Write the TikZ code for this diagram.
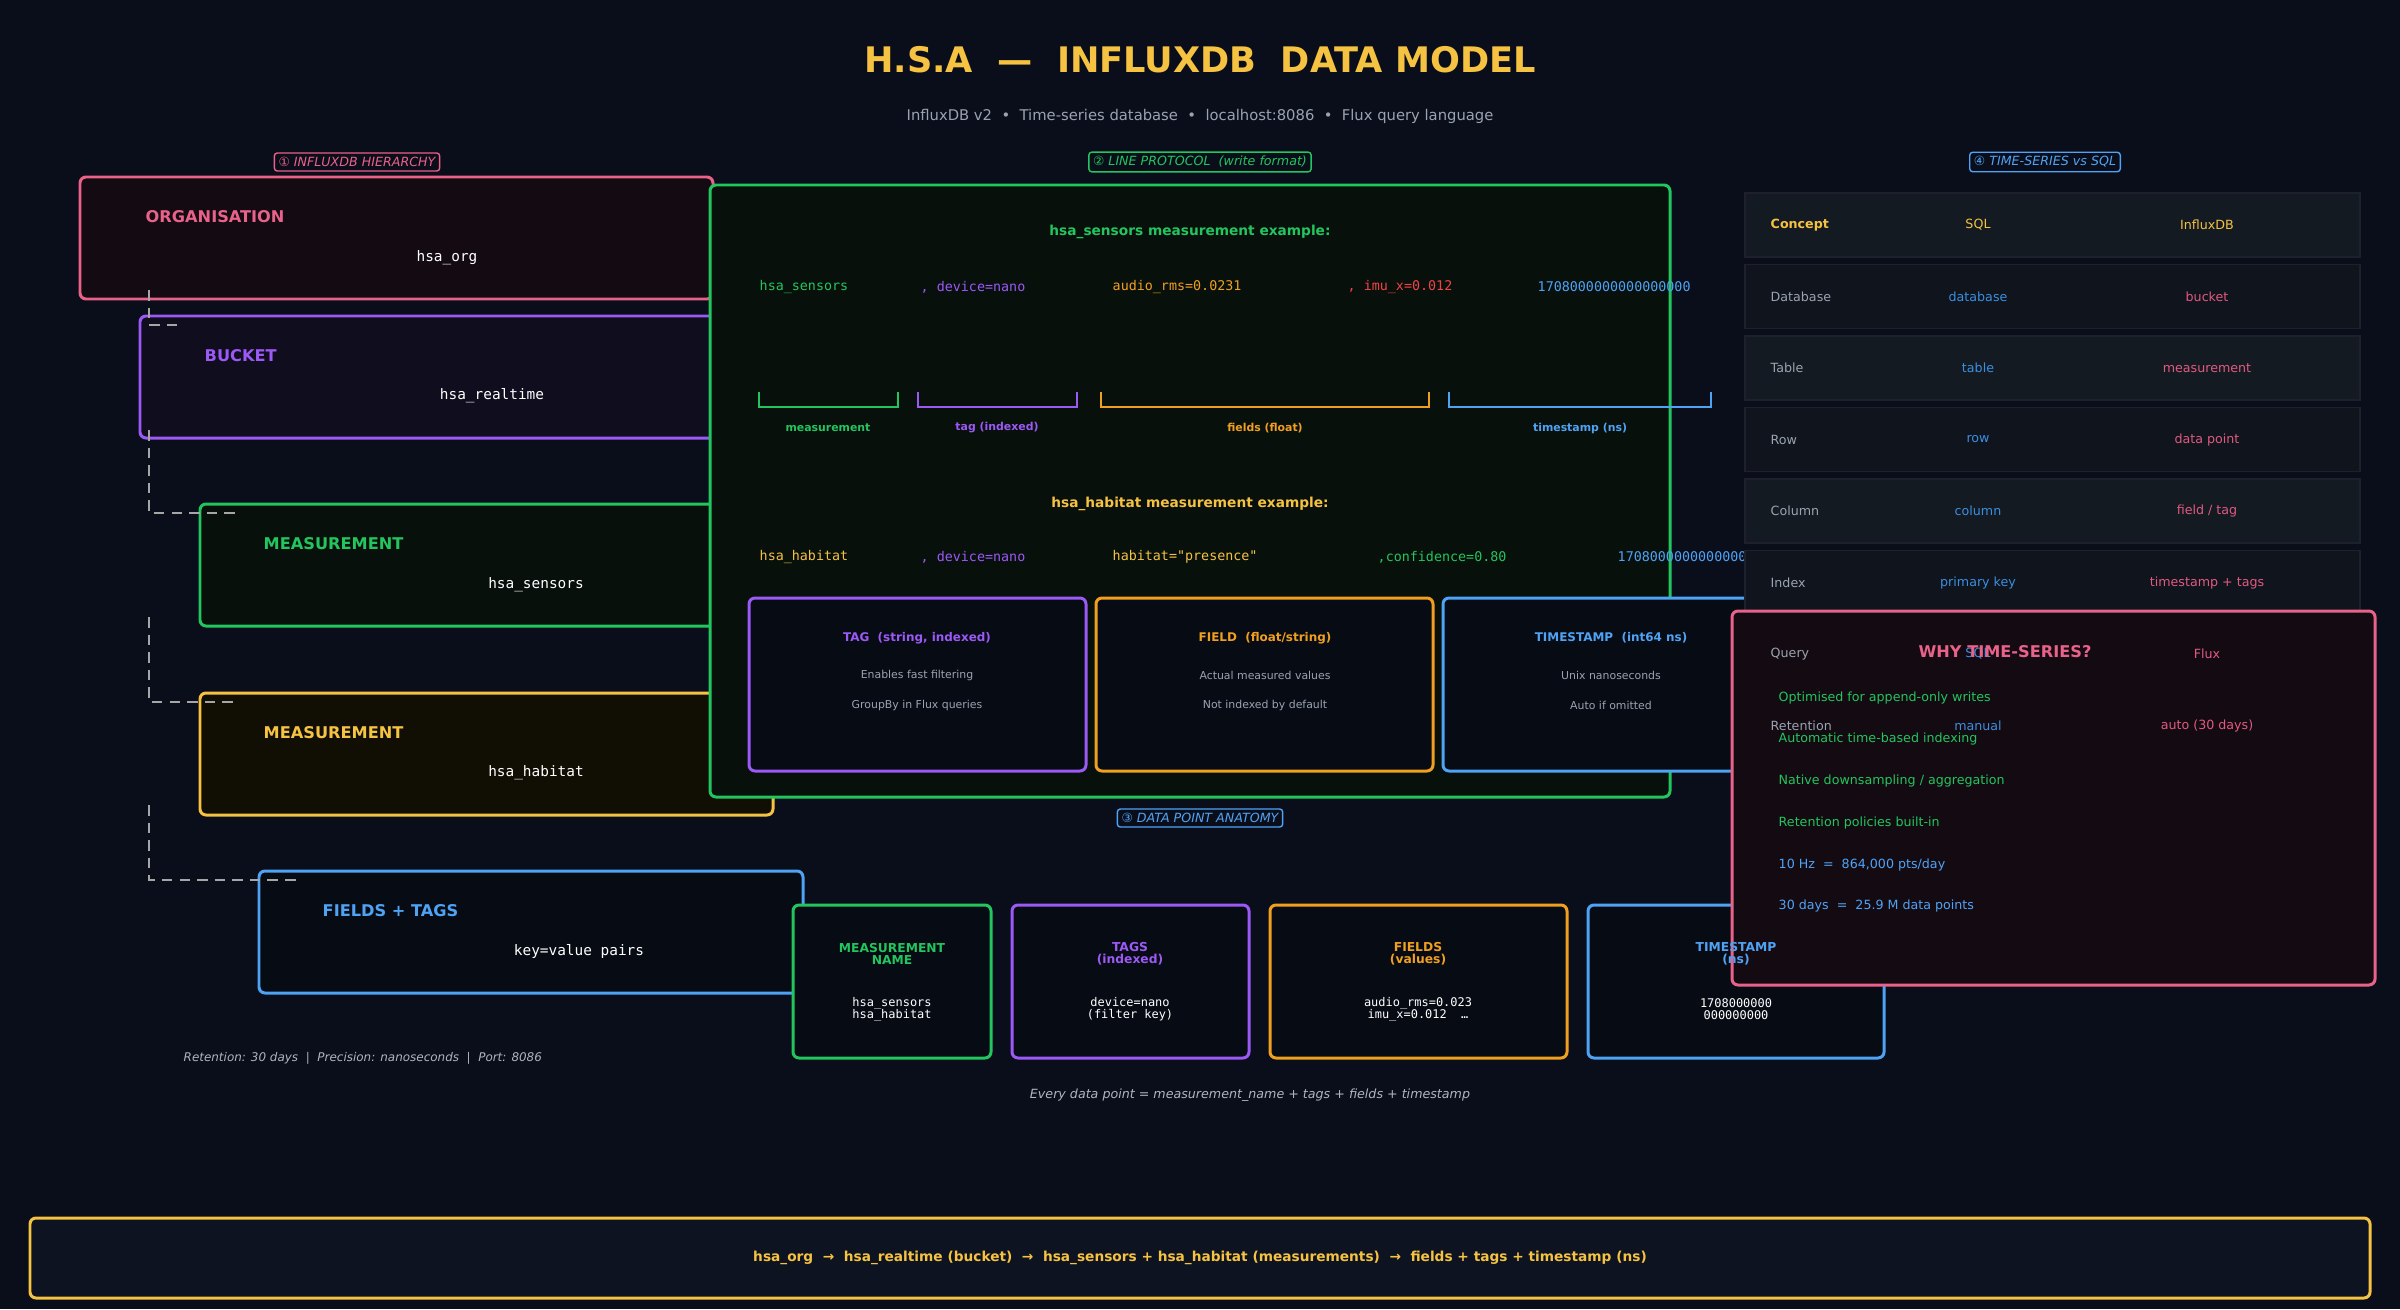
\documentclass[tikz,border=0pt]{standalone}
\usepackage{fontspec}
\setmainfont{DejaVu Sans}
\setmonofont{DejaVu Sans Mono}
\newcommand\fsz[1]{\fontsize{#1}{#1}\selectfont}
\definecolor{bg}{HTML}{0A0E1A}
\definecolor{cpink}{HTML}{E8628A}
\definecolor{cpurp}{HTML}{9B59F5}
\definecolor{cgreen}{HTML}{22C55E}
\definecolor{cyel}{HTML}{F5C242}
\definecolor{cblue}{HTML}{4FA3F5}
\definecolor{corange}{HTML}{F0A020}
\definecolor{cred}{HTML}{EF4444}
\definecolor{cgrey}{HTML}{9AA3B0}
\definecolor{csql}{HTML}{3B8FE0}
\definecolor{cinf}{HTML}{E05A80}
\definecolor{rowa}{HTML}{141A22}
\definecolor{rowb}{HTML}{0F141D}
\definecolor{fpink}{HTML}{140A12}
\definecolor{fpurp}{HTML}{0F0D1E}
\definecolor{fgreen}{HTML}{08100C}
\definecolor{fyel}{HTML}{110E04}
\definecolor{fdark}{HTML}{070B14}
\definecolor{ffoot}{HTML}{0D1320}
\begin{document}
\begin{tikzpicture}[x=0.01cm,y=-0.01cm,
  box/.style={line width=0.85pt,rounded corners=0.06cm},
  sec/.style={draw,rounded corners=0.03cm,line width=0.4pt,inner sep=1.2pt,font=\fsz{3.6}\itshape},
  head/.style={anchor=west,inner sep=0pt,font=\fsz{4.6}\bfseries},
  mono/.style={font=\ttfamily\fsz{4.1},text=white},
  lp/.style={anchor=west,inner sep=0pt,font=\ttfamily\fsz{3.8}},
  brl/.style={font=\fsz{3.1}\bfseries},
  sbt/.style={font=\fsz{3.4}\bfseries},
  sbx/.style={font=\fsz{3.1},text=cgrey},
  ant/.style={font=\fsz{3.5}\bfseries,align=center},
  antm/.style={font=\ttfamily\fsz{3.4},text=white,align=center},
  tb/.style={font=\fsz{3.6}},
  why/.style={anchor=west,inner sep=0pt,font=\fsz{3.6}},
  hdash/.style={draw=gray!70,dash pattern=on 3pt off 2pt,line width=0.5pt}]
\fill[bg] (0,0) rectangle (2400,1309);
\useasboundingbox (0,0) rectangle (2400,1309);
% title
\node[text=cyel,font=\fsz{10}\bfseries] (title) at (1200,60) {H.S.A\ \ —\ \ INFLUXDB\ \ DATA MODEL};
\node[text=cgrey,font=\fsz{4.2}] (sub) at (1200,116) {InfluxDB v2\ \ •\ \ Time-series database\ \ •\ \ localhost:8086\ \ •\ \ Flux query language};
% hierarchy
\node[sec,draw=cpink,text=cpink] (s1) at (357,162) {① INFLUXDB HIERARCHY};
\draw[box,draw=cpink,fill=fpink] (80,177) rectangle (713,299);
\node[head,text=cpink] (org) at (145,217) {ORGANISATION};
\node[mono] (orgv) at (447,258) {hsa\_org};
\draw[box,draw=cpurp,fill=fpurp] (140,316) rectangle (720,438);
\node[head,text=cpurp] (bkt) at (204,356) {BUCKET};
\node[mono] (bktv) at (492,396) {hsa\_realtime};
\draw[box,draw=cgreen,fill=fgreen] (200,504) rectangle (720,626);
\node[head,text=cgreen] (m1) at (263,544) {MEASUREMENT};
\node[mono] (m1v) at (536,585) {hsa\_sensors};
\draw[box,draw=cyel,fill=fyel] (200,693) rectangle (773,815);
\node[head,text=cyel] (m2) at (263,733) {MEASUREMENT};
\node[mono] (m2v) at (536,773) {hsa\_habitat};
\draw[box,draw=cblue,fill=fdark] (259,871) rectangle (803,993);
\node[head,text=cblue] (ft) at (322,911) {FIELDS + TAGS};
\node[mono] (ftv) at (579,951) {key=value pairs};
\coordinate (d1a) at (149,290); \coordinate (d1b) at (177,325);
\coordinate (d2a) at (149,430); \coordinate (d2b) at (238,513);
\coordinate (d3a) at (149,617); \coordinate (d3b) at (238,702);
\coordinate (d4a) at (149,805); \coordinate (d4b) at (297,880);
\draw[hdash] (d1a) |- (d1b);
\draw[hdash] (d2a) |- (d2b);
\draw[hdash] (d3a) |- (d3b);
\draw[hdash] (d4a) |- (d4b);
\node[anchor=west,inner sep=0pt,text=cgrey!80,font=\fsz{3.4}\itshape] (ret) at (183,1058) {Retention: 30 days\ \ |\ \ Precision: nanoseconds\ \ |\ \ Port: 8086};
% line protocol
\node[sec,draw=cgreen,text=cgreen] (s2) at (1200,162) {② LINE PROTOCOL\ \ (write format)};
\draw[box,draw=cgreen,fill=fgreen] (710,185) rectangle (1670,797);
\node[text=cgreen,font=\fsz{3.9}\bfseries] (ex1) at (1190,232) {hsa\_sensors measurement example:};
\node[lp,text=cgreen] (a1) at (759,287) {hsa\_sensors};
\node[lp,text=cpurp] (a2) at (920,287) {, device=nano};
\node[lp,text=corange] (a3) at (1112,287) {audio\_rms=0.0231};
\node[lp,text=cred] (a4) at (1347,287) {, imu\_x=0.012};
\node[lp,text=cblue] (a5) at (1537,287) {1708000000000000000};
\draw[cgreen,line width=0.5pt] (759,392) -- (759,407) -- (898,407) -- (898,392);
\draw[cpurp,line width=0.5pt] (918,392) -- (918,407) -- (1077,407) -- (1077,392);
\draw[corange,line width=0.5pt] (1101,392) -- (1101,407) -- (1429,407) -- (1429,392);
\draw[cblue,line width=0.5pt] (1449,392) -- (1449,407) -- (1711,407) -- (1711,392);
\node[brl,text=cgreen] (b1) at (828,428) {measurement};
\node[brl,text=cpurp] (b2) at (997,428) {tag (indexed)};
\node[brl,text=corange] (b3) at (1265,428) {fields (float)};
\node[brl,text=cblue] (b4) at (1580,428) {timestamp (ns)};
\node[text=cyel,font=\fsz{3.9}\bfseries] (ex2) at (1190,504) {hsa\_habitat measurement example:};
\node[lp,text=cyel] (c1) at (759,557) {hsa\_habitat};
\node[lp,text=cpurp] (c2) at (920,557) {, device=nano};
\node[lp,text=cyel] (c3) at (1112,557) {habitat="presence"};
\node[lp,text=cgreen] (c4) at (1377,557) {,confidence=0.80};
\node[lp,text=cblue] (c5) at (1617,557) {1708000000000000000};
\draw[box,draw=cpurp,fill=fdark] (749,598) rectangle (1086,771);
\node[sbt,text=cpurp] (t1) at (917,638) {TAG\ \ (string, indexed)};
\node[sbx] (t1a) at (917,675) {Enables fast filtering};
\node[sbx] (t1b) at (917,705) {GroupBy in Flux queries};
\draw[box,draw=corange,fill=fdark] (1096,598) rectangle (1433,771);
\node[sbt,text=corange] (t2) at (1265,638) {FIELD\ \ (float/string)};
\node[sbx] (t2a) at (1265,675) {Actual measured values};
\node[sbx] (t2b) at (1265,705) {Not indexed by default};
\draw[box,draw=cblue,fill=fdark] (1443,598) rectangle (1780,771);
\node[sbt,text=cblue] (t3) at (1611,638) {TIMESTAMP\ \ (int64 ns)};
\node[sbx] (t3a) at (1611,675) {Unix nanoseconds};
\node[sbx] (t3b) at (1611,705) {Auto if omitted};
% anatomy
\node[sec,draw=cblue,text=cblue] (s3) at (1200,818) {③ DATA POINT ANATOMY};
\draw[box,draw=cgreen,fill=fdark] (793,905) rectangle (991,1058);
\node[ant,text=cgreen] (n1) at (892,954) {MEASUREMENT\\NAME};
\node[antm] (n1v) at (892,1009) {hsa\_sensors\\hsa\_habitat};
\draw[box,draw=cpurp,fill=fdark] (1012,905) rectangle (1249,1058);
\node[ant,text=cpurp] (n2) at (1130,954) {TAGS\\(indexed)};
\node[antm] (n2v) at (1130,1009) {device=nano\\(filter key)};
\draw[box,draw=corange,fill=fdark] (1270,905) rectangle (1567,1058);
\node[ant,text=corange] (n3) at (1418,954) {FIELDS\\(values)};
\node[antm] (n3v) at (1418,1009) {audio\_rms=0.023\\imu\_x=0.012\ \ …};
\draw[box,draw=cblue,fill=fdark] (1588,905) rectangle (1884,1058);
\node[text=cgrey!80,font=\fsz{3.6}\itshape] (every) at (1250,1095) {Every data point = measurement\_name + tags + fields + timestamp};
% table
\node[sec,draw=cblue,text=cblue] (s4) at (2045,162) {④ TIME-SERIES vs SQL};
\foreach \i in {0,...,7}{
  \pgfmathsetmacro\yy{193+71.5*\i}
  \ifodd\i \def\rc{rowb}\else \def\rc{rowa}\fi
  \draw[fill=\rc,draw=white!8!bg,line width=0.4pt] (1745,\yy) rectangle (2360,\yy+64);
}
% why box
\draw[box,draw=cpink,fill=fpink] (1732,611) rectangle (2375,985);
\node[ant,text=cblue] (n4) at (1736,954) {TIMESTAMP\\(ns)};
\node[antm] (n4v) at (1736,1009) {1708000000\\000000000};
\foreach \a/\b/\c [count=\i from 0] in {Database/database/bucket,Table/table/measurement,Row/row/data point,Column/column/{field / tag},Index/primary key/timestamp + tags,Query/SQL/Flux,Retention/manual/auto (30 days)}{
  \pgfmathsetmacro\yy{193+71.5*(\i+1)+32}
  \node[tb,anchor=west,inner sep=0pt,text=cgrey] (ra\i) at (1770,\yy) {\a};
  \node[tb,text=csql] (rb\i) at (1978,\yy) {\b};
  \node[tb,text=cinf] (rc\i) at (2207,\yy) {\c};
}
\node[tb,anchor=west,inner sep=0pt,text=cyel,font=\fsz{3.6}\bfseries] (h1) at (1770,225) {Concept};
\node[tb,text=cyel] (h2) at (1978,225) {SQL};
\node[tb,text=cyel] (h3) at (2207,225) {InfluxDB};
\node[text=cpink,font=\fsz{4.6}\bfseries] (whyt) at (2005,652) {WHY TIME-SERIES?};
\node[why,text=cgreen] (w1) at (1778,698) {Optimised for append-only writes};
\node[why,text=cgreen] (w2) at (1778,739) {Automatic time-based indexing};
\node[why,text=cgreen] (w3) at (1778,781) {Native downsampling / aggregation};
\node[why,text=cgreen] (w4) at (1778,823) {Retention policies built-in};
\node[why,text=cblue] (w5) at (1778,865) {10 Hz\ \ =\ \ 864,000 pts/day};
\node[why,text=cblue] (w6) at (1778,906) {30 days\ \ =\ \ 25.9 M data points};
% footer
\draw[box,draw=cyel,fill=ffoot] (30,1218) rectangle (2370,1298);
\node[text=cyel,font=\fsz{3.9}\bfseries] (foot) at (1200,1258) {hsa\_org\ \ →\ \ hsa\_realtime (bucket)\ \ →\ \ hsa\_sensors + hsa\_habitat (measurements)\ \ →\ \ fields + tags + timestamp (ns)};
\end{tikzpicture}
\end{document}
